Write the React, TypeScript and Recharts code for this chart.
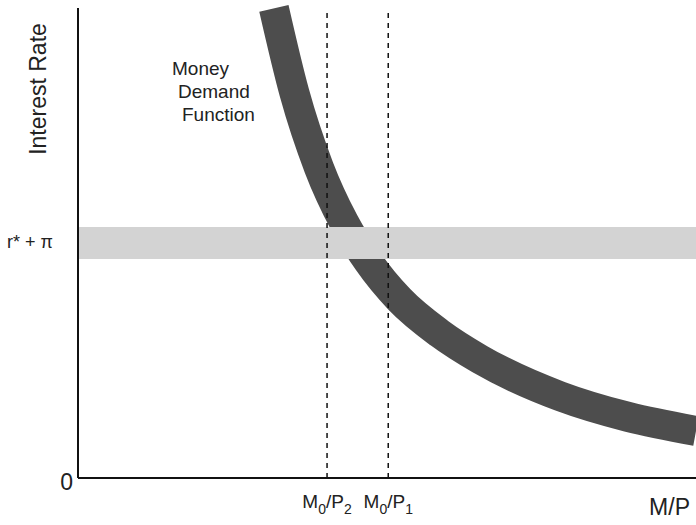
import React from "react";
import {
  ComposedChart,
  Line,
  XAxis,
  YAxis,
  ReferenceArea,
  ReferenceLine,
  Customized,
  Label,
} from "recharts";

const realBalances = [31.7, 35.0, 39.0, 43.0, 47.0, 52.0, 58.5, 65.0, 78.0, 89.0, 100];
const interestRates = [99.9, 82.0, 66.0, 54.5, 46.0, 38.0, 30.8, 25.3, 17.4, 13.0, 10.0];

// horizontal band r* + pi
const bandLow = 46.6;
const bandHigh = 53.4;
const rateTicks = [0, 50];
const rateTickLabels = ["0", "r* + \u03c0"];

// real-balance markers M0/P2 and M0/P1
const balanceTicks = [40.3, 50.2];
const balanceSubscripts = ["2", "1"];

const data = realBalances.map((x, i) => ({ x, y: interestRates[i] }));

const FONT = "'Liberation Sans', Arial, Helvetica, sans-serif";

const XTick = (props: any) => {
  const { x, y, payload } = props;
  const idx = balanceTicks.indexOf(payload.value);
  const sub = balanceSubscripts[idx];
  return (
    <text x={x} y={y + 22} textAnchor="middle" fontFamily={FONT} fill="#222" fontSize={19}>
      <tspan>M</tspan>
      <tspan fontSize={14} dy={6}>0</tspan>
      <tspan fontSize={19} dy={-6}>/P</tspan>
      <tspan fontSize={14} dy={6}>{sub}</tspan>
    </text>
  );
};

const YTick = (props: any) => {
  const { y, payload } = props;
  const idx = rateTicks.indexOf(payload.value);
  if (idx === 0) {
    return (
      <text x={73} y={y + 12} textAnchor="end" fontFamily={FONT} fontSize={23} fill="#222">
        {rateTickLabels[idx]}
      </text>
    );
  }
  return (
    <text x={53} y={y + 5} textAnchor="end" fontFamily={FONT} fontSize={18} fill="#222">
      {rateTickLabels[idx]}
    </text>
  );
};

const Annotation = () => (
  <g fontFamily={FONT} fontSize={19} fill="#222">
    <text x={172} y={75}>Money</text>
    <text x={178} y={98}>Demand</text>
    <text x={182} y={121}>Function</text>
  </g>
);

export default function App() {
  return (
    <div style={{ position: "absolute", left: 0, top: 0, background: "#fff" }}>
      <ComposedChart
        width={696}
        height={525}
        data={data}
        margin={{ top: 8, right: 0, bottom: 0, left: 0 }}
      >
        <XAxis
          dataKey="x"
          type="number"
          domain={[0, 100]}
          ticks={balanceTicks}
          tick={<XTick />}
          tickLine={false}
          axisLine={{ stroke: "#111", strokeWidth: 2 }}
          height={47}
          interval={0}
        >
          <Label
            content={(p: any) => {
              const vb = p.viewBox;
              return (
                <text
                  x={vb.x + vb.width - 6}
                  y={vb.y + 37}
                  textAnchor="end"
                  fontFamily={FONT}
                  fontSize={23}
                  fill="#222"
                >
                  M/P
                </text>
              );
            }}
          />
        </XAxis>
        <YAxis
          type="number"
          domain={[0, 100]}
          ticks={rateTicks}
          tick={<YTick />}
          tickLine={false}
          axisLine={{ stroke: "#111", strokeWidth: 2 }}
          width={78}
          interval={0}
        >
          <Label
            content={() => (
              <text
                x={46}
                y={89}
                transform="rotate(-90, 46, 89)"
                textAnchor="middle"
                fontFamily={FONT}
                fontSize={23}
                fill="#222"
              >
                Interest Rate
              </text>
            )}
          />
        </YAxis>
        <Line
          dataKey="y"
          type="monotone"
          stroke="#4d4d4d"
          strokeWidth={30}
          strokeLinecap="butt"
          dot={false}
          activeDot={false}
          isAnimationActive={false}
        />
        <ReferenceArea
          y1={bandLow}
          y2={bandHigh}
          x1={0}
          x2={100}
          fill="#d3d3d3"
          fillOpacity={1}
          stroke="none"
          zIndex={450}
        />
        {balanceTicks.map((t) => (
          <ReferenceLine
            key={t}
            x={t}
            stroke="#111"
            strokeWidth={1.5}
            strokeDasharray="5 5"
            zIndex={460}
          />
        ))}
        <Customized component={Annotation} />
      </ComposedChart>
    </div>
  );
}
